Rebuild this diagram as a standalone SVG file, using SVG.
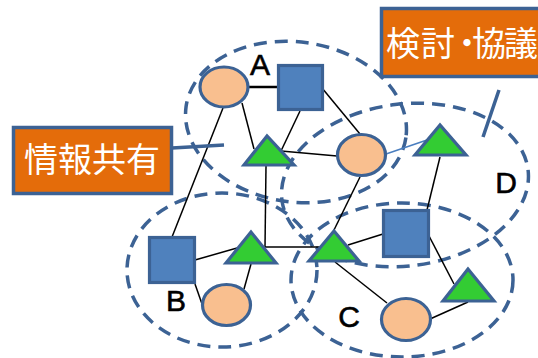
<svg xmlns="http://www.w3.org/2000/svg" width="538" height="358" viewBox="0 0 538 358">
  <defs>
    <style>
      .cluster { fill: none; stroke: #3c6294; stroke-width: 3.5; stroke-dasharray: 13 8; }
      .circle { fill: #f9bf8f; stroke: #3c6294; stroke-width: 3.2; }
      .square { fill: #4f81bd; stroke: #3c6294; stroke-width: 3.2; }
      .tri { fill: #33cc33; stroke: #3c6294; stroke-width: 3.2; stroke-linejoin: miter; }
      .edge { stroke: #000; stroke-width: 1.5; fill: none; }
      .edge-thick { stroke: #000; stroke-width: 2.5; }
      .edge-blue { stroke: #4a7ebf; stroke-width: 1.5; }
      .callout { fill: #e46c0a; stroke: #3c6294; stroke-width: 3.5; }
      .pointer { stroke: #3c6294; stroke-width: 3.5; }
      .callout-text { fill: #fff; font-family: "Noto Sans CJK JP", "Noto Sans", sans-serif; font-size: 34px; }
      .group-label { fill: #000; font-family: "Liberation Sans", Arial, sans-serif; font-size: 30px; text-anchor: middle; stroke: #000; stroke-width: 0.6; }
    </style>
  </defs>

  <rect width="538" height="358" fill="#fff"/>

  <!-- dashed cluster outlines -->
  <g id="clusters">
    <ellipse class="cluster" cx="296" cy="122" rx="111" ry="80" transform="rotate(8 296 122)"/>
    <ellipse class="cluster" cx="405" cy="185" rx="124" ry="81" transform="rotate(-7 405 185)"/>
    <ellipse class="cluster" cx="222" cy="270" rx="95" ry="77"/>
    <ellipse class="cluster" cx="402" cy="280" rx="111" ry="77"/>
    <text class="group-label" x="260" y="75">A</text>
    <text class="group-label" x="176" y="311">B</text>
    <text class="group-label" x="349" y="327">C</text>
    <text class="group-label" x="506" y="193">D</text>
  </g>

  <!-- connectors -->
  <g id="connectors">
    <line class="edge-thick" x1="249" y1="87" x2="278" y2="87"/>
    <line class="edge" x1="223" y1="108" x2="172" y2="237"/>
    <line class="edge" x1="242" y1="103" x2="254" y2="149"/>
    <line class="edge" x1="300" y1="111" x2="281" y2="151"/>
    <line class="edge" x1="322" y1="88" x2="360" y2="134"/>
    <line class="edge" x1="281" y1="151" x2="337" y2="156"/>
    <line class="edge-blue" x1="386" y1="154" x2="427" y2="140"/>
    <line class="edge" x1="266" y1="166" x2="265" y2="247"/>
    <line class="edge" x1="265" y1="247" x2="320" y2="247"/>
    <line class="edge" x1="195" y1="260" x2="237" y2="248"/>
    <line class="edge" x1="195" y1="284" x2="202" y2="304"/>
    <line class="edge" x1="251" y1="264" x2="244" y2="289"/>
    <line class="edge" x1="360" y1="177" x2="334" y2="230"/>
    <line class="edge" x1="348" y1="245" x2="383" y2="234"/>
    <line class="edge" x1="440" y1="157" x2="427" y2="210"/>
    <line class="edge" x1="428" y1="234" x2="454" y2="284"/>
    <line class="edge" x1="335" y1="262" x2="387" y2="303"/>
    <line class="edge" x1="468" y1="302" x2="430" y2="319"/>
  </g>

  <!-- nodes -->
  <g id="circle-a1"><ellipse class="circle" cx="224" cy="87" rx="24" ry="20"/></g>
  <g id="square-a"><rect class="square" x="278.5" y="65.5" width="44" height="44"/></g>
  <g id="triangle-a"><polygon class="tri" points="267,136 244,165 294,165"/></g>
  <g id="circle-a2"><ellipse class="circle" cx="361.5" cy="155" rx="24" ry="20.5"/></g>
  <g id="triangle-d"><polygon class="tri" points="440,125 415,155 466,155"/></g>
  <g id="square-b"><rect class="square" x="149.5" y="237.5" width="45" height="45"/></g>
  <g id="triangle-b"><polygon class="tri" points="251,232 226,263 276,263"/></g>
  <g id="circle-b"><ellipse class="circle" cx="226.5" cy="305" rx="24" ry="20.5"/></g>
  <g id="triangle-c1"><polygon class="tri" points="334,231 309,261 359,261"/></g>
  <g id="square-d"><rect class="square" x="383.5" y="210.5" width="45" height="46"/></g>
  <g id="triangle-c2"><polygon class="tri" points="468,269 443,301 494,301"/></g>
  <g id="circle-c"><ellipse class="circle" cx="406" cy="319.5" rx="24.5" ry="21"/></g>

  <!-- callouts -->
  <g id="callout-share">
    <line class="pointer" x1="172" y1="148" x2="224" y2="145"/>
    <rect class="callout" x="13.5" y="127.5" width="158" height="66"/>
    <text class="callout-text" x="92" y="172" text-anchor="middle">情報共有</text>
  </g>
  <g id="callout-discuss">
    <line class="pointer" x1="499" y1="90" x2="483" y2="137"/>
    <rect class="callout" x="381.5" y="8.5" width="200" height="68"/>
    <!-- per-glyph x positions keep the middle dot narrow -->
    <text class="callout-text" x="386 421 450 472 504" y="56">検討・協議</text>
  </g>
</svg>
